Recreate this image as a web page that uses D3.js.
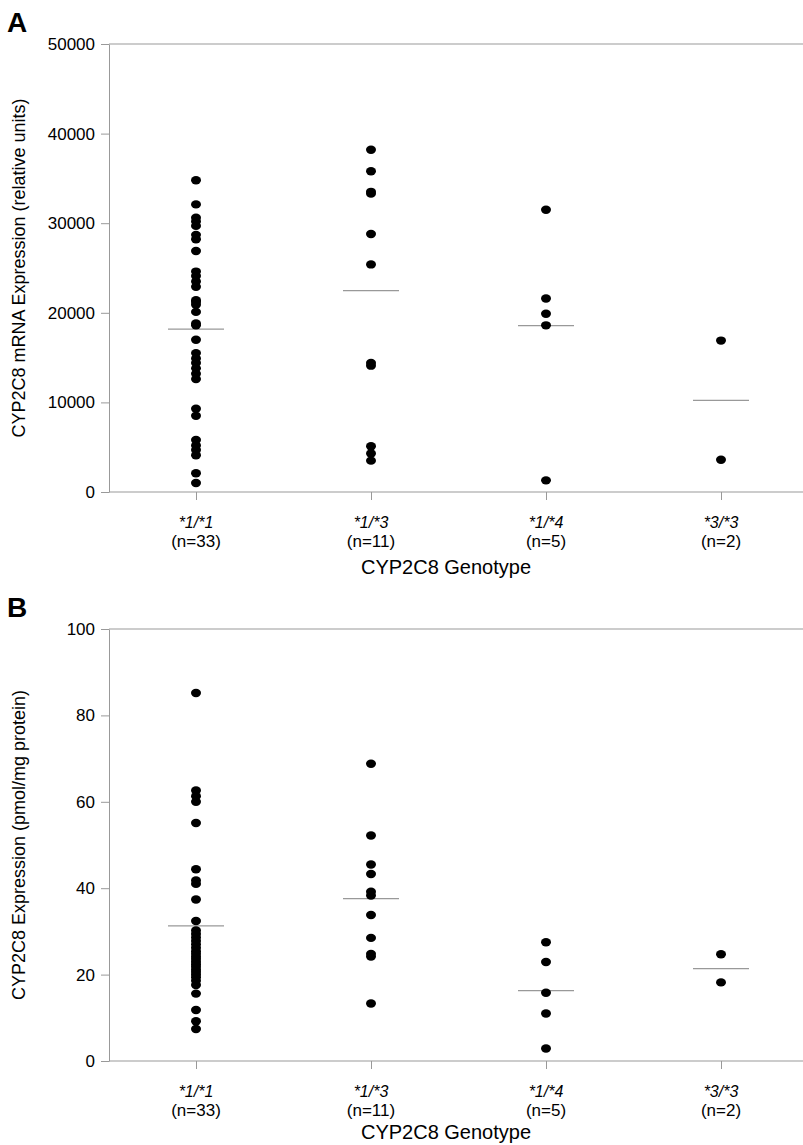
<!DOCTYPE html>
<html>
<head>
<meta charset="utf-8">
<script src="https://cdn.jsdelivr.net/npm/d3@7"></script>
<style>
  body { margin: 0; background: #fff; }
  svg { display: block; font-family: "Liberation Sans", Arial, sans-serif; }
</style>
</head>
<body>
<svg></svg>
<script>
// categories
let genotypes = ['*1/*1', '*1/*3', '*1/*4', '*3/*3']
let counts = ['(n=33)', '(n=11)', '(n=5)', '(n=2)']

// panel A - mRNA expression (relative units)
let mrna11 = [34800, 32100, 30600, 30200, 29700, 28700, 28200, 26900, 24600, 24100,
              23500, 22900, 21400, 21200, 20900, 20100, 18800, 18600, 17000, 15500,
              14900, 14400, 13800, 13200, 12600, 9300, 8500, 5800, 5200, 4700,
              4100, 2100, 1000]
let mrna13 = [38200, 35800, 33500, 33300, 28800, 25400, 14400, 14100, 5100, 4300, 3500]
let mrna14 = [31500, 21600, 19900, 18600, 1300]
let mrna33 = [16900, 3600]
let mrnaMeans = [18170, 22470, 18560, 10230]
let mrnaTicks = [0, 10000, 20000, 30000, 40000, 50000]

// panel B - protein expression (pmol/mg protein)
let prot11 = [85.2, 62.6, 61.3, 60.0, 55.1, 44.4, 41.8, 41.0, 37.4, 32.4,
              30.2, 29.4, 28.6, 27.8, 27.0, 26.2, 25.4, 24.8, 24.2, 23.6,
              23.0, 22.4, 21.8, 21.2, 20.6, 20.0, 19.4, 18.6, 17.6, 15.6,
              11.8, 9.2, 7.4]
let prot13 = [68.8, 52.2, 45.5, 43.3, 39.2, 38.3, 33.8, 28.5, 24.8, 24.2, 13.3]
let prot14 = [27.5, 22.9, 15.8, 11.0, 2.9]
let prot33 = [24.7, 18.2]
let protMeans = [31.3, 37.6, 16.3, 21.4]
let protTicks = [0, 20, 40, 60, 80, 100]

let w = 803
let h = 1145
let left = 109

let svg = d3.select('svg')
   .attr('width', w)
   .attr('height', h)

let xScale = d3.scalePoint()
   .domain(genotypes)
   .range([196, 721])

let drawPanel = (cfg) => {
   let yScale = d3.scaleLinear()
      .domain([0, cfg.max])
      .range([cfg.bottom, cfg.top])

   let g = svg.append('g')

   // panel letter
   g.append('text')
      .attr('x', 7)
      .attr('y', cfg.top - 12)
      .attr('font-size', 28)
      .attr('font-weight', 'bold')
      .text(cfg.letter)

   // frame lines top and bottom
   g.append('line')
      .attr('x1', left).attr('x2', w)
      .attr('y1', cfg.top).attr('y2', cfg.top)
      .attr('stroke', '#999')
   g.append('line')
      .attr('x1', left).attr('x2', w)
      .attr('y1', cfg.bottom).attr('y2', cfg.bottom)
      .attr('stroke', '#999')

   let yAxis = d3.axisLeft(yScale)
      .tickValues(cfg.ticks)
      .tickFormat(d3.format('d'))
      .tickSize(8)
      .tickSizeOuter(0)
      .tickPadding(6)

   let ya = g.append('g')
      .attr('transform', 'translate(' + left + ',0)')
      .call(yAxis)
   ya.selectAll('path, line').attr('stroke', '#999')
   ya.selectAll('text')
      .attr('font-size', 17)
      .attr('font-family', '"Liberation Sans", Arial, sans-serif')
      .attr('fill', '#000')

   let xAxis = d3.axisBottom(xScale)
      .tickSize(8)
      .tickSizeOuter(0)
      .tickFormat('')

   let xa = g.append('g')
      .attr('transform', 'translate(0,' + cfg.bottom + ')')
      .call(xAxis)
   xa.select('.domain').remove()
   xa.selectAll('line').attr('stroke', '#999')

   // category labels
   g.selectAll('.geno')
      .data(genotypes)
      .enter()
      .append('text')
      .attr('x', (d) => xScale(d))
      .attr('y', cfg.bottom + 36)
      .attr('text-anchor', 'middle')
      .attr('font-size', 16)
      .attr('font-style', 'italic')
      .attr('fill', '#000')
      .text((d) => d)

   g.selectAll('.count')
      .data(genotypes)
      .enter()
      .append('text')
      .attr('x', (d) => xScale(d))
      .attr('y', cfg.bottom + 55)
      .attr('text-anchor', 'middle')
      .attr('font-size', 17)
      .attr('fill', '#000')
      .text((d, i) => counts[i])

   g.append('text')
      .attr('x', (left + 803) / 2 - 10)
      .attr('y', cfg.bottom + cfg.xTitleOffset)
      .attr('text-anchor', 'middle')
      .attr('font-size', 20)
      .attr('fill', '#000')
      .text('CYP2C8 Genotype')

   // y title
   g.append('text')
      .attr('transform', 'translate(25,' + (cfg.top + cfg.bottom) / 2 + ') rotate(-90)')
      .attr('text-anchor', 'middle')
      .attr('font-size', 18)
      .attr('fill', '#000')
      .text(cfg.title)

   // mean lines
   g.selectAll('.mean')
      .data(cfg.means)
      .enter()
      .append('line')
      .attr('x1', (d, i) => xScale(genotypes[i]) - 28)
      .attr('x2', (d, i) => xScale(genotypes[i]) + 28)
      .attr('y1', (d) => yScale(d))
      .attr('y2', (d) => yScale(d))
      .attr('stroke', '#999')
      .attr('stroke-width', 1.2)

   // points
   cfg.series.forEach((vals, i) => {
      g.selectAll('.dot' + i)
         .data(vals)
         .enter()
         .append('ellipse')
         .attr('cx', xScale(genotypes[i]))
         .attr('cy', (d) => yScale(d))
         .attr('rx', 5)
         .attr('ry', 4.2)
         .attr('fill', '#000')
   })
}

drawPanel({
   letter: 'A',
   top: 44,
   bottom: 492,
   max: 50000,
   ticks: mrnaTicks,
   means: mrnaMeans,
   series: [mrna11, mrna13, mrna14, mrna33],
   title: 'CYP2C8 mRNA Expression (relative units)',
   xTitleOffset: 82
})

drawPanel({
   letter: 'B',
   top: 629,
   bottom: 1061,
   max: 100,
   ticks: protTicks,
   means: protMeans,
   series: [prot11, prot13, prot14, prot33],
   title: 'CYP2C8 Expression (pmol/mg protein)',
   xTitleOffset: 78
})
</script>
</body>
</html>
